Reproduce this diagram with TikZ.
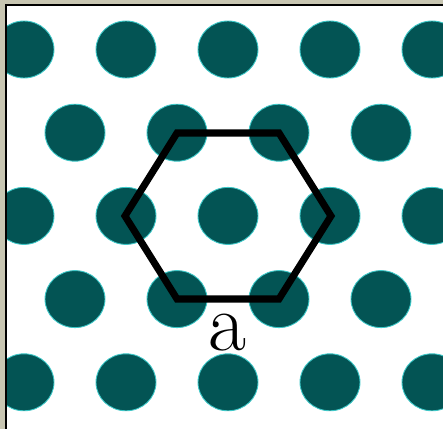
\documentclass[tikz,border=0pt]{standalone}
\usepackage{tikz}
\usepackage{xcolor}
\definecolor{dotteal}{RGB}{3,84,84}
\definecolor{dotrim}{RGB}{60,200,200}
\definecolor{framebg}{RGB}{200,198,178}

\begin{document}
\begin{tikzpicture}[x=0.02cm,y=-0.02cm]
  \useasboundingbox (0,0) rectangle (443,429);
  \fill[framebg] (0,0) rectangle (443,429);
  \fill[white] (7,6) rectangle (443,429);
  \begin{scope}
    \clip (7,6) rectangle (443,429);
    \foreach \r in {0,2,4}{ \foreach \c in {0,...,4}{
      \filldraw[fill=dotteal,draw=dotrim,line width=0.5pt] (24+\c*102,49.5+\r*83.2) ellipse [x radius=0.6cm,y radius=0.57cm];
    } }
    \foreach \r in {1,3}{ \foreach \c in {0,...,3}{
      \filldraw[fill=dotteal,draw=dotrim,line width=0.5pt] (75+\c*102,49.5+\r*83.2) ellipse [x radius=0.6cm,y radius=0.57cm];
    } }
  \end{scope}
  \draw[line width=1.1pt] (6,429) -- (6,5) -- (443,5);
  \coordinate (h1) at (125,216);
  \coordinate (h2) at (177,133);
  \coordinate (h3) at (279,133);
  \coordinate (h4) at (331,216);
  \coordinate (h5) at (279,299);
  \coordinate (h6) at (177,299);
  \draw[line width=4pt] (h1) -- (h2) -- (h3) -- (h4) -- (h5) -- (h6) -- cycle;
  \node[anchor=base,inner sep=0pt,font=\fontsize{47}{56}\selectfont] (lbl) at (227,350) {a};
\end{tikzpicture}
\end{document}
